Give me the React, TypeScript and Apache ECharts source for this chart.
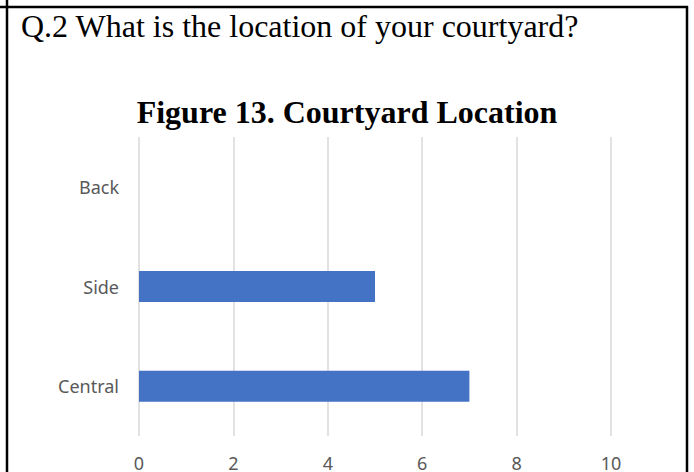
import React, { useEffect, useRef } from "react";
import * as echarts from "echarts";

const categories = ["Central", "Side", "Back"];
const values = [7, 5, 0];
const questionText = "Q.2 What is the location of your courtyard?";
const chartTitle = "Figure 13. Courtyard Location";

export default function App() {
  const ref = useRef<HTMLDivElement>(null);
  useEffect(() => {
    document.body.style.margin = "0";
    const chart = echarts.init(ref.current!, null, { renderer: "svg" });
    chart.setOption({
      animation: false,
      backgroundColor: "#ffffff",
      grid: { left: 139, right: 83, top: 137, bottom: 36, containLabel: false },
      xAxis: {
        type: "value",
        min: 0,
        max: 10,
        interval: 2,
        axisLine: { show: false },
        axisTick: { show: false },
        splitLine: { show: true, lineStyle: { color: "#d9d9d9", width: 1.5 } },
        axisLabel: { color: "#595959", fontSize: 18, fontFamily: "Noto Sans", margin: 18 },
      },
      yAxis: {
        type: "category",
        data: categories,
        axisLine: { show: false },
        axisTick: { show: false },
        axisLabel: { color: "#595959", fontSize: 18, fontFamily: "Noto Sans", margin: 20 },
      },
      series: [
        {
          type: "bar",
          data: values,
          barWidth: 31,
          itemStyle: { color: "#4472C4" },
        },
      ],
      graphic: [
        { type: "line", shape: { x1: 7, y1: 0, x2: 7, y2: 472 }, style: { stroke: "#000", lineWidth: 2.5 } },
        { type: "line", shape: { x1: 0, y1: 7, x2: 688, y2: 7 }, style: { stroke: "#000", lineWidth: 2.5 } },
        { type: "line", shape: { x1: 687, y1: 6, x2: 687, y2: 472 }, style: { stroke: "#000", lineWidth: 2.5 } },
        {
          type: "text",
          x: 21,
          y: 26,
          style: {
            text: questionText,
            fontFamily: "Liberation Serif",
            fontSize: 32,
            fill: "#000",
            textAlign: "left",
            textVerticalAlign: "middle",
          },
        },
        {
          type: "text",
          x: 347,
          y: 112,
          style: {
            text: chartTitle,
            fontFamily: "Liberation Serif",
            fontSize: 32,
            fontWeight: "bold",
            fill: "#000",
            textAlign: "center",
            textVerticalAlign: "middle",
          },
        },
      ],
    });
    return () => chart.dispose();
  }, []);
  return <div ref={ref} style={{ width: 694, height: 472 }} />;
}
